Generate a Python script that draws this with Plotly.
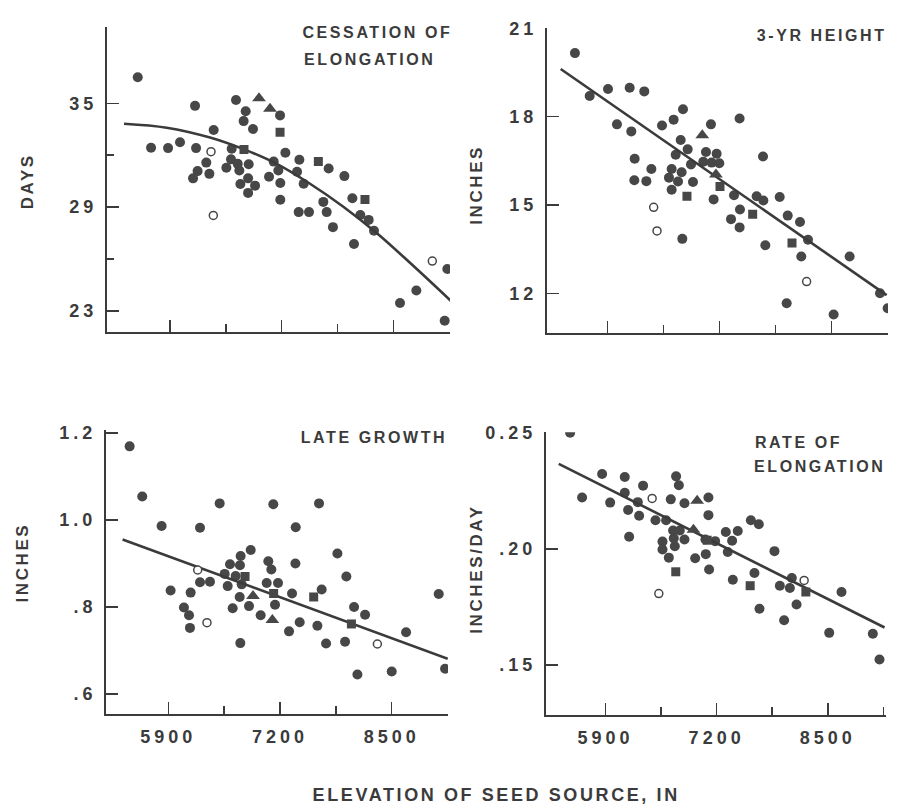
import plotly.graph_objects as go

# ---------------- data ----------------
# Panel 1: cessation of elongation (days)
cess_dot_x = [5524, 6191, 5679, 5877, 6016, 6203, 6408, 6668, 6781, 6757, 6866, 7181, 6618, 6322,
              6221, 6168, 6358, 6556, 6610, 6688, 6707, 6816, 6809, 6719, 6890, 6809, 7107, 7161,
              7053, 7184, 7243, 7406, 7379, 7456, 7747, 7930, 7184, 7685, 7398, 7518, 7724, 7797,
              8023, 8116, 8213, 8275, 8042, 8578, 8768, 9129, 9098]
cess_dot_y = [36.5, 34.85, 32.43, 32.41, 32.75, 32.41, 33.46, 35.19, 34.54, 33.97, 33.51, 34.30, 32.37, 31.57,
              31.08, 30.66, 30.92, 31.27, 31.76, 31.50, 31.11, 31.48, 30.66, 30.33, 30.24, 29.82, 31.63, 31.11,
              30.75, 30.39, 32.14, 31.74, 31.04, 30.35, 31.23, 30.79, 29.42, 29.30, 28.71, 28.71, 28.71, 27.84,
              29.51, 28.54, 28.26, 27.63, 26.87, 23.46, 24.18, 25.42, 22.43]
cess_open_x = [6377, 6404, 8954]
cess_open_y = [32.2, 28.52, 25.88]
cess_tri_x = [6936, 7064]
cess_tri_y = [35.29, 34.68]
cess_sq_x = [6761, 7181, 7627, 8170]
cess_sq_y = [32.33, 33.32, 31.63, 29.44]
# drawn regression curve, read along its length
cess_curve_x = [5364, 5861, 6366, 6754, 7142, 7530, 7918, 8306, 8694, 9168]
cess_curve_y = [33.82, 33.59, 33.02, 32.35, 31.50, 30.35, 29.02, 27.50, 25.78, 23.59]

# Panel 2: 3-yr height (inches)
hgt_dot_x = [5520, 5691, 5904, 6156, 6326, 6008, 6175, 6214, 6210, 6350, 6408, 6532, 6667, 6776,
             6749, 6830, 6691, 6644, 6760, 6613, 6718, 6644, 6892, 6869, 7101, 7043, 7167, 7012,
             7109, 7198, 7132, 7434, 7369, 7438, 7334, 7434, 7632, 7710, 7706, 7900, 7993, 8136,
             7733, 8229, 8151, 7981, 8713, 9066, 8527, 9155, 6768]
hgt_dot_y = [20.16, 18.70, 18.94, 18.98, 18.86, 17.74, 17.50, 16.57, 15.84, 15.81, 16.22, 17.70, 17.90, 18.25,
             17.21, 16.89, 16.71, 16.22, 16.11, 15.93, 15.80, 15.52, 15.78, 16.38, 17.74, 16.80, 16.74, 16.47,
             16.44, 16.42, 15.19, 17.94, 15.33, 14.85, 14.52, 14.24, 15.30, 15.15, 16.65, 15.27, 14.64, 14.42,
             13.63, 13.82, 13.25, 11.66, 13.25, 12.00, 11.28, 11.49, 13.85]
hgt_open_x = [6435, 6474, 8213]
hgt_open_y = [14.92, 14.12, 12.40]
hgt_tri_x = [7000, 7159]
hgt_tri_y = [17.37, 16.04]
hgt_sq_x = [6822, 7206, 7586, 8043]
hgt_sq_y = [15.30, 15.63, 14.69, 13.71]
hgt_line_x = [5354, 9143]
hgt_line_y = [19.62, 11.94]

# Panel 3: late growth (inches)
late_dot_x = [5450, 5597, 5822, 6269, 6498, 7122, 7654, 7383, 5927, 6160, 6082, 6141, 6152, 6269,
              6385, 6618, 6742, 6859, 6556, 6684, 6591, 6734, 6754, 6731, 6839, 6649, 6738, 6975,
              7064, 7099, 7045, 7177, 7142, 7340, 7379, 7429, 7305, 7635, 7685, 7736, 7868, 7972,
              7957, 8062, 8190, 8101, 8500, 8667, 9047, 9121]
late_dot_y = [1.169, 1.054, 0.986, 0.982, 1.038, 1.036, 1.038, 0.983, 0.838, 0.833, 0.799, 0.781, 0.752, 0.857,
              0.858, 0.898, 0.917, 0.931, 0.876, 0.871, 0.848, 0.896, 0.852, 0.823, 0.802, 0.797, 0.717, 0.781,
              0.905, 0.886, 0.855, 0.855, 0.805, 0.831, 0.900, 0.765, 0.744, 0.757, 0.840, 0.716, 0.923, 0.870,
              0.720, 0.800, 0.782, 0.645, 0.652, 0.742, 0.830, 0.658]
late_open_x = [6242, 6350, 8333]
late_open_y = [0.885, 0.764, 0.715]
late_tri_x = [6886, 7111]
late_tri_y = [0.825, 0.770]
late_sq_x = [6793, 7126, 7592, 8031]
late_sq_y = [0.870, 0.831, 0.823, 0.761]
late_line_x = [5368, 9152]
late_line_y = [0.955, 0.681]

# Panel 4: rate of elongation (inches/day)
rate_dot_x = [5487, 5627, 5861, 5955, 6126, 6126, 6340, 6278, 6165, 6294, 6177, 6485, 6609, 6664,
              6726, 6758, 6824, 7104, 7104, 6691, 6567, 6567, 6641, 6711, 6699, 6824, 6769, 6949,
              7073, 7112, 7069, 7182, 7307, 7447, 7381, 7330, 7600, 7693, 7876, 7389, 7642, 7701,
              7939, 8079, 8056, 8134, 7989, 8660, 8516, 9026, 9104]
rate_dot_y = [0.2500, 0.2221, 0.2322, 0.2199, 0.2309, 0.2241, 0.2272, 0.2201, 0.2167, 0.2142, 0.2052, 0.2123,
              0.2123, 0.2213, 0.2312, 0.2274, 0.2196, 0.2221, 0.2145, 0.2079, 0.2031, 0.1997, 0.1962, 0.2011,
              0.2045, 0.2040, 0.2079, 0.1959, 0.1977, 0.1911, 0.2040, 0.2033, 0.2072, 0.2077, 0.2035, 0.1986,
              0.2123, 0.2106, 0.1990, 0.1867, 0.1896, 0.1742, 0.1841, 0.1874, 0.1831, 0.1760, 0.1692, 0.1814,
              0.1638, 0.1634, 0.1523]
rate_open_x = [6446, 6524, 8223]
rate_open_y = [0.2217, 0.1807, 0.1864]
rate_tri_x = [6972, 6929]
rate_tri_y = [0.2207, 0.2082]
rate_sq_x = [6722, 7089, 7592, 8243]
rate_sq_y = [0.1901, 0.2037, 0.1841, 0.1814]
rate_line_x = [5354, 9163]
rate_line_y = [0.2366, 0.1661]

# tick values / labels
x_major = [5900, 7200, 8500]
x_minor = [6550, 7850, 9150]
x_major_text = ["5900", "7200", "8500"]

cess_ticks = [35, 29, 23]
cess_minor = [32, 26]
hgt_ticks = [21, 18, 15, 12]
late_ticks = [1.2, 1.0, 0.8, 0.6]
late_tick_text = ["1.2", "1.0", ".8", ".6"]
rate_ticks = [0.25, 0.20, 0.15]
rate_tick_text = ["0.25", ".20", ".15"]

# ---------------- styling ----------------
W, H = 908, 809
INK = "#3b3b3b"
DOT = "#474747"
FONT = "Liberation Sans, Arial, sans-serif"


def px_x(p):
    return p / W


def px_y(p):
    return 1 - p / H


panels = [
    dict(dx=(107, 450), dy=(18, 327), xr=[5166, 9160], yr=[21.76, 39.42], shape="spline",
         dot=(cess_dot_x, cess_dot_y), open=(cess_open_x, cess_open_y), tri=(cess_tri_x, cess_tri_y),
         sq=(cess_sq_x, cess_sq_y), line=(cess_curve_x, cess_curve_y),
         yt=cess_ticks, ytt=[str(v) for v in cess_ticks], ymin=cess_minor, xlab=False),
    dict(dx=(547, 888), dy=(19, 328), xr=[5195, 9159], yr=[10.64, 21.02], shape="linear",
         dot=(hgt_dot_x, hgt_dot_y), open=(hgt_open_x, hgt_open_y), tri=(hgt_tri_x, hgt_tri_y),
         sq=(hgt_sq_x, hgt_sq_y), line=(hgt_line_x, hgt_line_y),
         yt=hgt_ticks, ytt=[str(v) for v in hgt_ticks], ymin=[], xlab=False),
    dict(dx=(106, 448), dy=(426, 713), xr=[5175, 9155], yr=[0.554, 1.206], shape="linear",
         dot=(late_dot_x, late_dot_y), open=(late_open_x, late_open_y), tri=(late_tri_x, late_tri_y),
         sq=(late_sq_x, late_sq_y), line=(late_line_x, late_line_y),
         yt=late_ticks, ytt=late_tick_text, ymin=[], xlab=True),
    dict(dx=(546, 886), dy=(428, 714), xr=[5205, 9180], yr=[0.1284, 0.2502], shape="linear",
         dot=(rate_dot_x, rate_dot_y), open=(rate_open_x, rate_open_y), tri=(rate_tri_x, rate_tri_y),
         sq=(rate_sq_x, rate_sq_y), line=(rate_line_x, rate_line_y),
         yt=rate_ticks, ytt=rate_tick_text, ymin=[], xlab=True),
]

fig = go.Figure()
layout = dict(width=W, height=H, margin=dict(l=0, r=0, t=0, b=0),
              paper_bgcolor="white", plot_bgcolor="white", showlegend=False,
              font=dict(family=FONT, color=INK))

for i, p in enumerate(panels, start=1):
    xa = "x" if i == 1 else f"x{i}"
    ya = "y" if i == 1 else f"y{i}"
    xkey = "xaxis" if i == 1 else f"xaxis{i}"
    ykey = "yaxis" if i == 1 else f"yaxis{i}"

    fig.add_trace(go.Scatter(x=p["dot"][0], y=p["dot"][1], mode="markers", xaxis=xa, yaxis=ya,
                             marker=dict(symbol="circle", size=10, color=DOT, line=dict(width=0)),
                             hoverinfo="skip"))
    fig.add_trace(go.Scatter(x=p["line"][0], y=p["line"][1], mode="lines", xaxis=xa, yaxis=ya,
                             line=dict(color=INK, width=2.6, shape=p["shape"]), hoverinfo="skip"))
    fig.add_trace(go.Scatter(x=p["sq"][0], y=p["sq"][1], mode="markers", xaxis=xa, yaxis=ya,
                             marker=dict(symbol="square", size=9, color=DOT, line=dict(width=0)),
                             hoverinfo="skip"))
    fig.add_trace(go.Scatter(x=p["tri"][0], y=p["tri"][1], mode="markers", xaxis=xa, yaxis=ya,
                             marker=dict(symbol="triangle-up", size=12, color=DOT, line=dict(width=0)),
                             hoverinfo="skip"))
    fig.add_trace(go.Scatter(x=p["open"][0], y=p["open"][1], mode="markers", xaxis=xa, yaxis=ya,
                             marker=dict(symbol="circle", size=8, color="white",
                                         line=dict(width=1.5, color=DOT)),
                             hoverinfo="skip"))

    layout[xkey] = dict(domain=[px_x(p["dx"][0]), px_x(p["dx"][1])], range=p["xr"], anchor=ya,
                        showline=True, linecolor=INK, linewidth=2, showgrid=False, zeroline=False,
                        ticks="inside", tickvals=x_major,
                        ticktext=x_major_text if p["xlab"] else ["", "", ""],
                        showticklabels=p["xlab"], ticklen=12, tickwidth=1.5, tickcolor=INK,
                        ticklabelstandoff=5,
                        tickfont=dict(family=FONT, size=18, color=INK, weight="bold"),
                        minor=dict(tickvals=x_minor, ticks="inside", ticklen=8, tickwidth=1.5,
                                   tickcolor=INK, showgrid=False))
    ymin = dict(tickvals=p["ymin"], ticks="inside", ticklen=7, tickwidth=1.5, tickcolor=INK,
                showgrid=False) if p["ymin"] else dict(ticks="", showgrid=False)
    layout[ykey] = dict(domain=[px_y(p["dy"][1]), px_y(p["dy"][0])], range=p["yr"], anchor=xa,
                        showline=True, linecolor=INK, linewidth=2, showgrid=False, zeroline=False,
                        ticks="inside", tickvals=p["yt"], ticktext=p["ytt"], ticklen=12,
                        tickwidth=1.5, tickcolor=INK, ticklabelstandoff=4,
                        tickfont=dict(family=FONT, size=18, color=INK, weight="bold"),
                        minor=ymin)

fig.update_layout(**layout)

title_font = dict(family=FONT, size=16, color=INK, weight="bold")
ytitle_font = dict(family=FONT, size=17, color=INK, weight="bold")


def ann(text, x, y, font, angle=0):
    fig.add_annotation(text=text, x=px_x(x), y=px_y(y), xref="paper", yref="paper",
                       xanchor="center", yanchor="middle", showarrow=False, font=font,
                       textangle=angle)


ann("CESSATION OF", 377, 24, title_font)
ann("ELONGATION", 369, 51, title_font)
ann("3-YR HEIGHT", 822, 27, title_font)
ann("LATE GROWTH", 374, 433, title_font)
ann("RATE OF", 798, 438, title_font)
ann("ELONGATION", 819, 463, title_font)

ann("DAYS", 27, 174, ytitle_font, -90)
ann("INCHES", 476, 178, ytitle_font, -90)
ann("INCHES", 23, 560, ytitle_font, -90)
ann("INCHES/DAY", 477, 566, ytitle_font, -90)

ann("ELEVATION OF SEED SOURCE, IN", 496, 795, dict(family=FONT, size=18, color=INK, weight="bold"))

post = """
document.documentElement.style.margin = '0';
document.documentElement.style.padding = '0';
document.body.style.margin = '0';
document.body.style.padding = '0';
document.body.style.overflow = 'hidden';
var gd = document.getElementById('{plot_id}');
function spaceText() {
  gd.querySelectorAll('g[class$="tick"] > text').forEach(function (t) {
    t.style.letterSpacing = '4px';
  });
  gd.querySelectorAll('.annotation-text').forEach(function (t) {
    t.style.letterSpacing = '2.6px';
  });
}
spaceText();
setTimeout(spaceText, 200);
"""

fig.write_html("out.html", post_script=post, config={"displayModeBar": False, "staticPlot": True})
